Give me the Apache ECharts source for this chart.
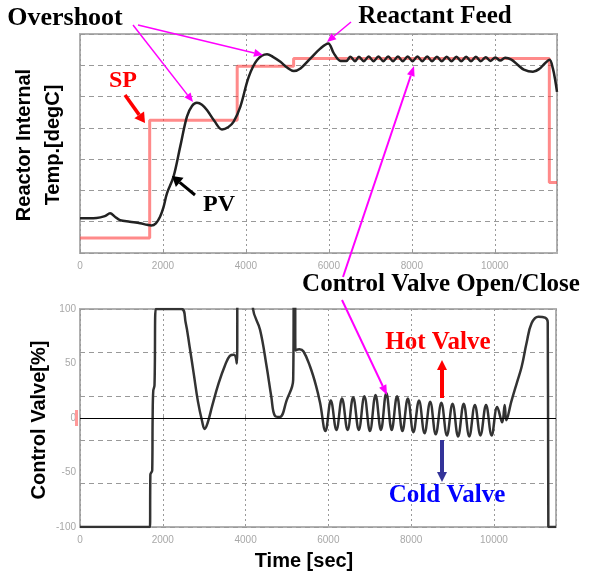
<!DOCTYPE html>
<html><head><meta charset="utf-8">
<script src="https://cdn.jsdelivr.net/npm/echarts@6/dist/echarts.min.js"></script>
<style>html,body{margin:0;padding:0;background:#fff}#c{width:593px;height:576px}</style>
</head><body><div id="c"></div>
<script>
const timeMax = 11500;
const xTickLabels = [0, 2000, 4000, 6000, 8000, 10000];
const valveTickLabels = [-100, -50, 0, 50, 100];

// Set point (top chart, grid units 0..7)
const spData = [[0,0.48],[1680,0.48],[1680,4.24],[3790,4.24],[3790,5.97],[5150,5.97],[5150,6.22],[11315,6.22],[11315,2.25],[11500,2.25]];

// Process value (top chart)
const pvData = [[0,1.11],[400,1.12],[600,1.18],[725,1.27],[850,1.15],[966,1.05],[1200,1.0],[1450,0.95],[1620,0.9],[1720,0.88],[1830,0.95],[1930,1.16],[2010,1.45],[2095,1.9],[2255,2.44],[2416,3.4],[2578,4.36],[2700,4.7],[2819,4.8],[2940,4.74],[3060,4.57],[3250,4.2],[3423,3.95],[3570,4.02],[3705,4.2],[3866,4.68],[4068,5.63],[4270,6.17],[4510,6.35],[4650,6.27],[4832,6.11],[5000,5.92],[5154,5.82],[5315,5.9],[5557,6.22],[5798,6.54],[5984,6.7],[6120,6.38],[6282,6.14],[6420,6.14],[6520,6.27],[6630,6.13],[6725,6.27],[6842,6.13],[6960,6.28],[7077,6.13],[7195,6.28],[7312,6.13],[7430,6.28],[7547,6.13],[7665,6.28],[7782,6.13],[7900,6.28],[8017,6.13],[8135,6.28],[8252,6.13],[8370,6.28],[8487,6.13],[8605,6.27],[8722,6.13],[8840,6.27],[8957,6.13],[9075,6.27],[9192,6.13],[9310,6.27],[9427,6.13],[9545,6.27],[9662,6.13],[9780,6.26],[9897,6.14],[10015,6.25],[10132,6.15],[10250,6.24],[10400,6.18],[10550,6.02],[10700,5.86],[10920,5.79],[11070,5.88],[11200,6.05],[11320,6.18],[11400,5.9],[11460,5.5],[11500,5.15]];

// Control valve output (bottom chart, %)
const valveData = [[0,-100],[1690,-100],[1700,-52],[1745,-48],[1755,0],[1770,25],[1800,30],[1830,100],[2450,100],[2550,88],[2650,65],[2750,40],[2850,15],[2950,-3],[3010,-10],[3080,-5],[3200,12],[3350,32],[3500,48],[3620,57],[3720,58],[3790,50],[3810,130],[4150,130],[4180,100],[4350,81],[4510,47],[4620,20],[4710,2],[4830,1],[4990,16],[5150,35],[5170,130],[5195,130],[5205,62],[5300,63],[5400,61],[5560,47],[5700,30],[5800,14],[5930,-12],[6060,16],[6195,-11],[6330,18],[6465,-11],[6600,19],[6735,-11],[6870,20],[7005,-12],[7140,21],[7270,-11],[7400,23],[7530,-11],[7660,20],[7790,-12],[7920,18],[8055,-13],[8190,16],[8325,-14],[8460,15],[8595,-15],[8730,14],[8865,-16],[9000,13],[9135,-17],[9270,13],[9405,-17],[9540,12],[9675,-16],[9810,12],[9945,-16],[10080,10],[10200,-4],[10260,12],[10300,-2],[10420,15],[10560,33],[10670,47],[10790,69],[10910,87],[11075,93],[11235,92],[11300,88],[11315,-100],[11500,-100]];

function arrow(x1, y1, x2, y2, color, w, hl, hw) {
  const dx = x2 - x1, dy = y2 - y1, L = Math.hypot(dx, dy), ux = dx / L, uy = dy / L;
  const bx = x2 - ux * hl, by = y2 - uy * hl, px = -uy, py = ux;
  return [
    {type:'line', silent:true, z:100, shape:{x1:x1, y1:y1, x2:bx, y2:by}, style:{stroke:color, lineWidth:w}},
    {type:'polygon', silent:true, z:100, shape:{points:[[x2,y2],[bx+px*hw,by+py*hw],[bx-px*hw,by-py*hw]]}, style:{fill:color}}
  ];
}
function label(txt, x, y, font, color, rot) {
  return {type:'text', silent:true, z:101, x:x, y:y, rotation:rot || 0,
    style:{text:txt, font:font, fill:color, align:'center', verticalAlign:'middle', textAlign:'center', textVerticalAlign:'middle'}};
}
const SERIF = '"Liberation Serif", "Times New Roman", serif';
const SANS = '"Liberation Sans", Arial, sans-serif';
const MAG = '#ff00ff';

const xFmt = v => xTickLabels.indexOf(v) >= 0 ? String(v) : '';
const gridLineX = {show:true, lineStyle:{color:'#999', type:[2,3], width:1}};
const gridLineY = {show:true, lineStyle:{color:'#999', type:[5,4], width:1}};

function xAxisFor(i) {
  return {gridIndex:i, type:'value', min:0, max:timeMax, interval:2000,
    axisLine:{show:false}, axisTick:{show:true, inside:true, length:3, lineStyle:{color:'#999'}},
    axisLabel:{color:'#a8a8a8', fontSize:10, margin:8, showMaxLabel:false, formatter:xFmt},
    splitLine:gridLineX};
}

const graphic = [].concat(
  arrow(133, 25, 193, 102, MAG, 1.5, 9, 4),
  arrow(138, 25, 263, 55, MAG, 1.5, 9, 4),
  arrow(351, 22, 327, 42, MAG, 1.5, 9, 4),
  arrow(125, 95, 145, 123, '#ff0000', 3.5, 10, 6),
  arrow(195, 195, 172, 176, '#000', 3, 10, 6),
  arrow(343, 277, 414, 66, MAG, 2, 10, 4),
  arrow(342, 300, 387, 395, MAG, 2, 10, 4),
  arrow(442, 398, 442, 360, '#ff0000', 4, 10, 5),
  arrow(442, 440, 442, 482, '#333399', 4, 10, 5),
  [
    {type:'rect', silent:true, z:100, shape:{x:75, y:410, width:3, height:16}, style:{fill:'#f99'}},
    label('Overshoot', 65, 18, 'bold 26px ' + SERIF, '#000'),
    label('Reactant Feed', 435, 17, 'bold 25px ' + SERIF, '#000'),
    label('SP', 123, 81, 'bold 24px ' + SERIF, '#ff0000'),
    label('PV', 219, 205, 'bold 24px ' + SERIF, '#000'),
    label('Control Valve Open/Close', 441, 285, 'bold 25px ' + SERIF, '#000'),
    label('Hot Valve', 438, 343, 'bold 25px ' + SERIF, '#ff0000'),
    label('Cold Valve', 447, 496, 'bold 25px ' + SERIF, '#0000ff'),
    label('Reactor Internal', 24, 145, 'bold 20px ' + SANS, '#000', Math.PI / 2),
    label('Temp.[degC]', 53, 145, 'bold 20px ' + SANS, '#000', Math.PI / 2),
    label('Control Valve[%]', 39, 420, 'bold 20px ' + SANS, '#000', Math.PI / 2),
    label('Time [sec]', 304, 561, 'bold 20px ' + SANS, '#000')
  ]
);

const chart = echarts.init(document.getElementById('c'), null, {renderer:'canvas'});
chart.setOption({
  animation:false,
  backgroundColor:'#fff',
  grid:[
    {left:80, top:34, width:477, height:219, show:true, borderColor:'#b0b0b0', borderWidth:2, backgroundColor:'transparent'},
    {left:80, top:309, width:476, height:218, show:true, borderColor:'#b0b0b0', borderWidth:2, backgroundColor:'transparent'}
  ],
  xAxis:[xAxisFor(0), xAxisFor(1)],
  yAxis:[
    {gridIndex:0, type:'value', min:0, max:7, interval:1, axisLabel:{show:false}, axisLine:{show:false}, axisTick:{show:false}, splitLine:gridLineY},
    {gridIndex:1, type:'value', min:-100, max:100, interval:50, axisLabel:{color:'#a8a8a8', fontSize:10, margin:4, formatter:v => valveTickLabels.indexOf(v) >= 0 ? String(v) : ''},
      axisLine:{show:false}, axisTick:{show:false}, splitLine:{show:false}},
    {gridIndex:1, type:'value', min:0, max:200, interval:40, position:'right', axisLabel:{show:false}, axisLine:{show:false}, axisTick:{show:false}, splitLine:gridLineY}
  ],
  series:[
    {type:'line', xAxisIndex:0, yAxisIndex:0, data:spData, symbol:'none', z:2,
      lineStyle:{color:'rgba(255,60,60,0.6)', width:3}},
    {type:'line', xAxisIndex:0, yAxisIndex:0, data:pvData, symbol:'none', smooth:0.35, z:3,
      lineStyle:{color:'#222', width:2.5}},
    {type:'line', xAxisIndex:1, yAxisIndex:1, data:valveData, symbol:'none', smooth:0.4, z:3,
      lineStyle:{color:'#333', width:2.5},
      markLine:{silent:true, symbol:['none','none'], label:{show:false}, lineStyle:{color:'#000', type:'solid', width:1},
        data:[{yAxis:0}]}}
  ],
  graphic:graphic
});
</script>
</body></html>
